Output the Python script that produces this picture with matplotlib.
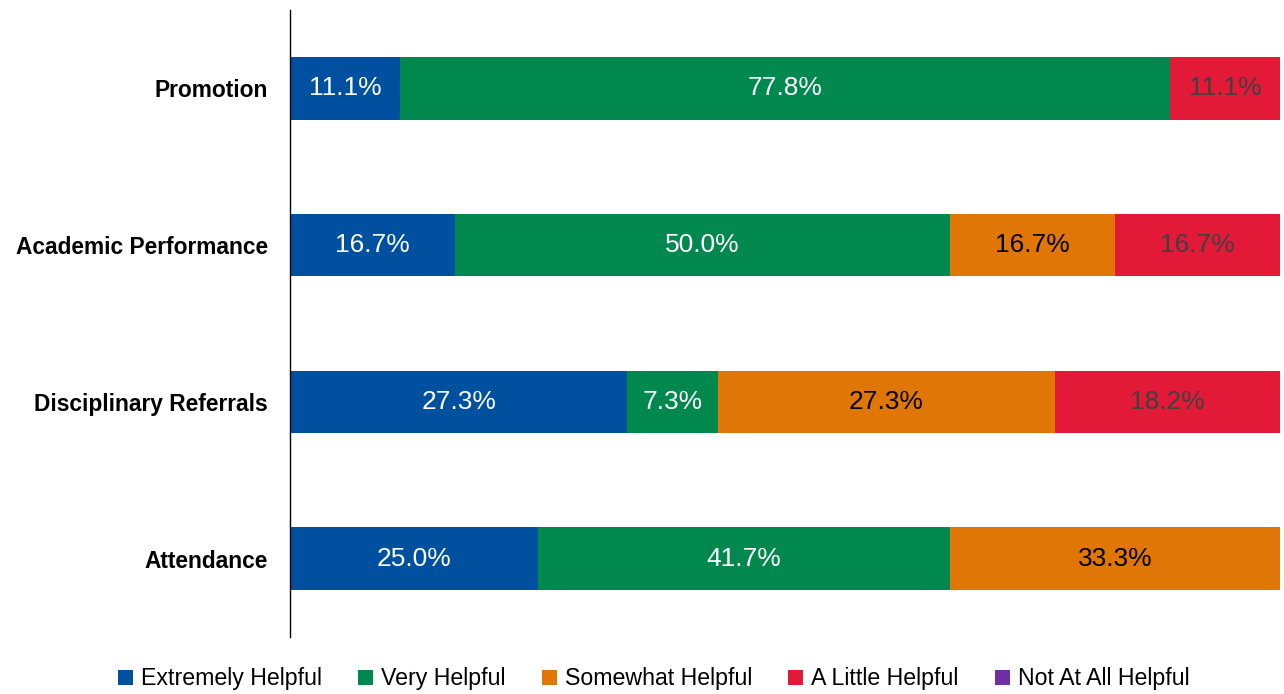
import numpy as np
import matplotlib.pyplot as plt

# Data (rows drawn top to bottom)
categories = ["Promotion", "Academic Performance", "Disciplinary Referrals", "Attendance"]
series = ["Extremely Helpful", "Very Helpful", "Somewhat Helpful", "A Little Helpful", "Not At All Helpful"]
extremely = [11.1, 16.7, 27.3, 25.0]
very = [77.8, 50.0, 7.3, 41.7]
somewhat = [0.0, 16.7, 27.3, 33.3]
little = [11.1, 16.7, 18.2, 0.0]
not_at_all = [0.0, 0.0, 0.0, 0.0]

colors = ["#0050A0", "#00884F", "#E07605", "#E21A37", "#7030A0"]
text_colors = ["white", "white", "black", "#404040", "white"]

plt.rcParams['font.family'] = ['Liberation Sans', 'DejaVu Sans']

values = np.array([extremely, very, somewhat, little, not_at_all])
# bars are drawn as shares of each row total (100% stacked)
shares = values / values.sum(axis=0)

fig = plt.figure(figsize=(12.84, 6.94), dpi=100)
ax = fig.add_axes([0.2259, 0.0821, 0.7710, 0.9035])

y = np.arange(len(categories))[::-1]
left = np.zeros(len(categories))
for i, name in enumerate(series):
    bars = ax.barh(y, shares[i], left=left, height=0.40, color=colors[i], label=name)
    for j, b in enumerate(bars):
        if values[i, j] > 0:
            ax.text(left[j] + shares[i, j] / 2, y[j], f"{values[i, j]:.1f}%",
                    ha="center", va="center", fontsize=19, color=text_colors[i])
    left += shares[i]

ax.set_xlim(0, 1)
ax.set_ylim(-0.5, 3.5)
ax.set_yticks(y)
ax.set_yticklabels(categories, fontsize=16.4, fontweight="bold", va="center_baseline")
ax.tick_params(axis="y", length=0, pad=16)
ax.set_xticks([])
for s in ["top", "right", "bottom"]:
    ax.spines[s].set_visible(False)
ax.spines["left"].set_linewidth(1.0)

fig.legend(loc="lower center", bbox_to_anchor=(0.509, -0.025), ncol=5, frameon=False,
           fontsize=16.7, handlelength=0.65, handleheight=0.65, handletextpad=0.35,
           columnspacing=1.55)

fig.savefig("out.png", dpi=100)
